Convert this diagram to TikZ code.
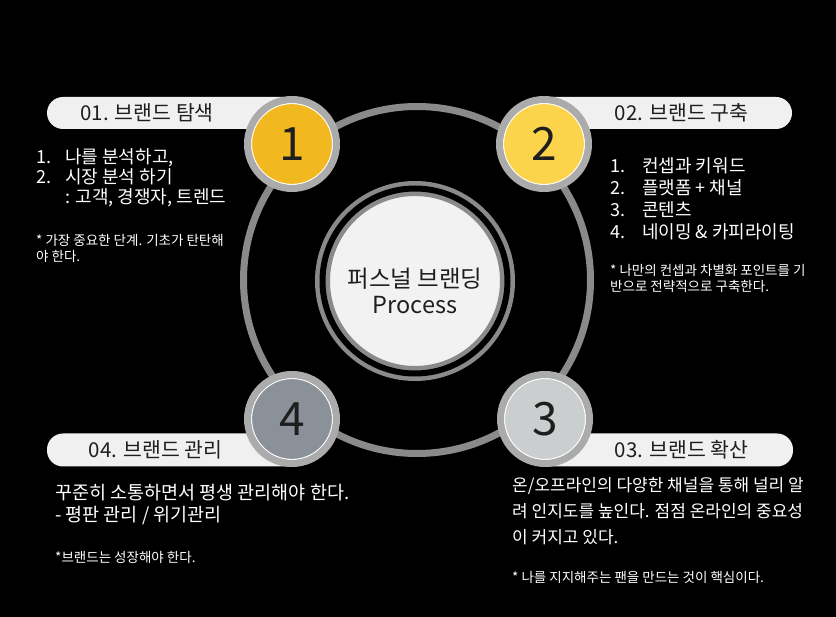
\documentclass[tikz,border=0pt]{standalone}
\usepackage{fontspec}
\setmainfont{Noto Sans CJK KR}
\usepackage{tikz}
\usetikzlibrary{positioning}
\definecolor{pagebg}{HTML}{000000}
\definecolor{ink}{HTML}{1E1E1E}
\definecolor{ringgray}{HTML}{8A8A8A}
\definecolor{rimgray}{HTML}{ABABAB}
\definecolor{barfill}{HTML}{F0F0F0}
\definecolor{hubfill}{HTML}{F2F2F2}
\definecolor{gold}{HTML}{F1B820}
\definecolor{butter}{HTML}{FCD44C}
\definecolor{silver}{HTML}{CBCECF}
\definecolor{slate}{HTML}{8A9199}

\begin{document}
\begin{tikzpicture}[x=1pt, y=-1pt,
  every node/.style={inner sep=0pt},
  loopring/.style={circle, draw=ringgray, line width=7pt, minimum size=347pt},
  hub/.style={circle, fill=hubfill, draw=ringgray, double=pagebg,
              double distance=6pt, line width=4.5pt, minimum size=185pt},
  numdisc/.style={circle, draw=rimgray, line width=7pt, minimum size=89pt,
                  text=ink, font=\fontsize{46}{46}\selectfont,
                  path picture={\draw[white, line width=1.2pt]
                    (path picture bounding box.center) circle (40.5);}},
  bar/.style={fill=barfill, rounded corners=16pt, minimum height=32pt},
  tag/.style={text=ink, font=\fontsize{20.5}{20.5}\selectfont},
  body/.style={text=white, align=left, anchor=north west},
  note/.style={text=white, align=left, font=\fontsize{13.5}{16}\selectfont}
]
  \fill[pagebg] (0,0) rectangle (836,617);

  % the cycle
  \node[loopring] (loop) at (417,280) {};

  % step banners
  \node[bar, minimum width=253pt] (bar1) at (173.5,113) {};
  \node[bar, minimum width=256pt] (bar2) at (664,113) {};
  \node[bar, minimum width=257pt, minimum height=33pt] (bar3) at (664.5,450) {};
  \node[bar, minimum width=253pt, minimum height=33pt] (bar4) at (173.5,450) {};
  \node[tag] (tag1) at (147,113) {01. 브랜드 탐색};
  \node[tag] (tag2) at (681.5,113) {02. 브랜드 구축};
  \node[tag] (tag3) at (681.5,450) {03. 브랜드 확산};
  \node[tag] (tag4) at (155.5,450) {04. 브랜드 관리};

  % numbered discs
  \node[numdisc, fill=gold]   (n1) at (292,144) {1};
  \node[numdisc, fill=butter] (n2) at (544,144) {2};
  \node[numdisc, fill=silver] (n3) at (545,419) {3};
  \node[numdisc, fill=slate]  (n4) at (292,419) {4};

  % centre
  \node[hub] (hub) at (415,281) {};
  \node[text=ink, align=center, font=\fontsize{23.5}{26}\selectfont] (hubtxt)
    at (415,291) {퍼스널 브랜딩\\Process};

  % step texts
  \node[body, font=\fontsize{18}{20}\selectfont] (lst1) at (36,148)
    {\makebox[29pt][l]{1.}나를 분석하고,\\
     \makebox[29pt][l]{2.}시장 분석 하기\\
     \hspace*{29pt}: 고객, 경쟁자, 트렌드};
  \node[note, below=27pt of lst1.south west, anchor=north west] (note1)
    {* 가장 중요한 단계. 기초가 탄탄해\\야 한다.};

  \node[body, font=\fontsize{18}{22}\selectfont] (lst2) at (610,157)
    {\makebox[32pt][l]{1.}컨셉과 키워드\\
     \makebox[32pt][l]{2.}플랫폼 + 채널\\
     \makebox[32pt][l]{3.}콘텐츠\\
     \makebox[32pt][l]{4.}네이밍 \& 카피라이팅};
  \node[note, below=24pt of lst2.south west, anchor=north west] (note2)
    {* 나만의 컨셉과 차별화 포인트를 기\\반으로 전략적으로 구축한다.};

  \node[body, font=\fontsize{17}{26}\selectfont] (txt3) at (512,477)
    {온/오프라인의 다양한 채널을 통해 널리 알\\
     려 인지도를 높인다. 점점 온라인의 중요성\\
     이 커지고 있다.};
  \node[note, below=26pt of txt3.south west, anchor=north west] (note3)
    {* 나를 지지해주는 팬을 만드는 것이 핵심이다.};

  \node[body, font=\fontsize{18.5}{22}\selectfont] (txt4) at (55,484)
    {꾸준히 소통하면서 평생 관리해야 한다.\\
     - 평판 관리 / 위기관리};
  \node[note, below=26.5pt of txt4.south west, anchor=north west] (note4)
    {*브랜드는 성장해야 한다.};
\end{tikzpicture}
\end{document}
